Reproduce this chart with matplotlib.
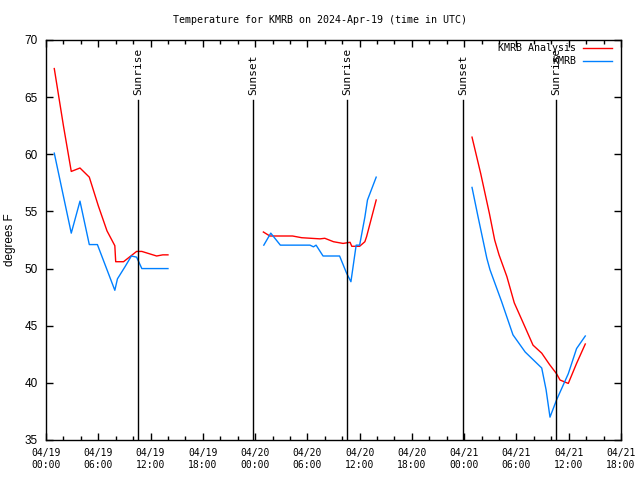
import numpy as np
import matplotlib
matplotlib.use("Agg")
import matplotlib.pyplot as plt

nan = np.nan
# hours since 04/19 00:00 UTC
analysis_t = [0.95, 2.0, 2.9, 3.9, 4.97, 6.0, 7.0, 7.9, 8.0, 8.9, 10.4, 11.0, 12.7, 13.4, 14.0,
              nan,
              24.95, 25.7, 28.3, 29.35, 31.45, 32.0, 33.0, 34.1, 34.5, 34.9, 35.1, 36.0, 36.6, 36.8, 37.9,
              nan,
              48.9, 49.9, 50.9, 51.5, 52.0, 52.9, 53.75, 54.8, 55.9, 56.9, 57.8, 58.6, 59.0, 59.95, 60.9, 61.9]
analysis_T = [67.5, 62.5, 58.5, 58.8, 58.0, 55.5, 53.3, 52.0, 50.6, 50.6, 51.5, 51.5, 51.1, 51.2, 51.2,
              nan,
              53.2, 52.85, 52.85, 52.7, 52.6, 52.65, 52.35, 52.2, 52.25, 52.3, 51.95, 51.95, 52.35, 52.8, 56.0,
              nan,
              61.5, 58.3, 54.8, 52.5, 51.2, 49.3, 47.0, 45.2, 43.3, 42.6, 41.6, 40.8, 40.25, 39.95, 41.7, 43.4]

obs_t = [0.95, 2.9, 3.9, 4.97, 5.9, 7.9, 8.2, 9.1, 9.8, 10.4, 11.0, 14.0,
         nan,
         25.0, 25.8, 26.9, 30.3, 30.7, 31.0, 31.8, 33.7, 34.5, 35.0, 35.6, 36.0, 36.6, 36.9, 37.9,
         nan,
         48.9, 49.6, 50.6, 50.96, 52.3, 53.6, 55.0, 56.9, 57.4, 57.85, 58.6, 59.95, 60.9, 61.9]
obs_T = [60.1, 53.1, 55.9, 52.1, 52.1, 48.1, 49.1, 50.2, 51.1, 51.0, 50.0, 50.0,
         nan,
         52.05, 53.1, 52.05, 52.05, 51.9, 52.05, 51.1, 51.1, 49.6, 48.85, 52.05, 52.05, 54.5, 56.0, 58.0,
         nan,
         57.1, 54.5, 50.9, 49.9, 47.1, 44.2, 42.7, 41.3, 39.4, 37.0, 38.5, 40.8, 43.0, 44.1]

event_t = [10.56, 23.76, 34.55, 47.86, 58.54]
event_names = ["Sunrise", "Sunset", "Sunrise", "Sunset", "Sunrise"]

xtick_pos = [0, 6, 12, 18, 24, 30, 36, 42, 48, 54, 60, 66]
xtick_labels = ["04/19\n00:00", "04/19\n06:00", "04/19\n12:00", "04/19\n18:00",
                "04/20\n00:00", "04/20\n06:00", "04/20\n12:00", "04/20\n18:00",
                "04/21\n00:00", "04/21\n06:00", "04/21\n12:00", "04/21\n18:00"]

mono = "DejaVu Sans Mono"

fig = plt.figure(figsize=(6.4, 4.8), dpi=100)
ax = fig.add_axes([46/640, 40/480, 575/640, 400/480])

ax.plot(analysis_t, analysis_T, color="#ff0000", lw=1, label="KMRB Analysis")
ax.plot(obs_t, obs_T, color="#0080ff", lw=1, label="KMRB")

for t, name in zip(event_t, event_names):
    ax.plot([t, t], [35, 64.75], color="black", lw=1)
    ax.text(t, 65.2, name, rotation=90, ha="center", va="bottom",
            family=mono, fontsize=8)

ax.set_xlim(0, 66)
ax.set_ylim(35, 70)
ax.set_xticks(xtick_pos)
ax.set_xticklabels(xtick_labels, family=mono, fontsize=7)
ax.set_xticks(np.arange(0, 66, 2), minor=True)
ax.set_yticks(np.arange(35, 71, 5))
ax.set_yticklabels([str(v) for v in range(35, 71, 5)], family="Liberation Sans", fontsize=8.5)
ax.tick_params(which="both", direction="in", top=True, right=True, width=1)
ax.tick_params(which="major", length=5, pad=6)
ax.tick_params(which="minor", length=3)
for s in ax.spines.values():
    s.set_linewidth(1)

ax.set_ylabel("degrees F", family="Liberation Sans", fontsize=8.5, labelpad=6)
fig.text(0.5, 1 - 20/480, "Temperature for KMRB on 2024-Apr-19 (time in UTC)",
         ha="center", va="center", family=mono, fontsize=7.2)

leg = ax.legend(loc="upper right", frameon=False, markerfirst=False,
                prop={"family": mono, "size": 7.2}, handlelength=2.9,
                handletextpad=0.7, labelspacing=0.35,
                bbox_to_anchor=(1.0, 1.015), borderaxespad=0.5)

fig.savefig("out.png", dpi=100)
